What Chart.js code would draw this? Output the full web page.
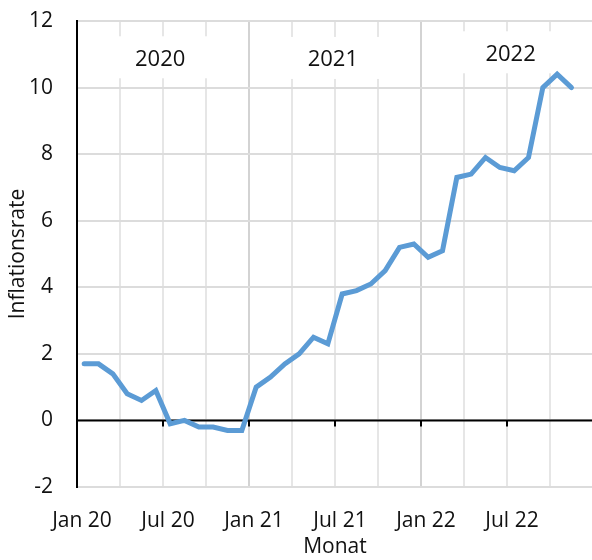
<!DOCTYPE html>
<html lang="de">
<head>
  <meta charset="UTF-8">
  <title>Inflationsrate</title>
  <script src="https://cdn.jsdelivr.net/npm/chart.js"></script>
  <style>
    body { margin: 0; background: #fff; overflow: hidden; }
    #wrap { width: 592px; height: 560px; overflow: hidden; }
  </style>
</head>
<body>
  <div id="wrap"><canvas id="chart" width="594" height="560"></canvas></div>

  <script>
    // Monate Jan 2020 .. Nov 2022
    const months = [
      'Jan 20','Feb 20','Mär 20','Apr 20','Mai 20','Jun 20','Jul 20','Aug 20','Sep 20','Okt 20','Nov 20','Dez 20',
      'Jan 21','Feb 21','Mär 21','Apr 21','Mai 21','Jun 21','Jul 21','Aug 21','Sep 21','Okt 21','Nov 21','Dez 21',
      'Jan 22','Feb 22','Mär 22','Apr 22','Mai 22','Jun 22','Jul 22','Aug 22','Sep 22','Okt 22','Nov 22'
    ];
    const inflation = [
      1.7, 1.7, 1.4, 0.8, 0.6, 0.9, -0.1, 0.0, -0.2, -0.2, -0.3, -0.3,
      1.0, 1.3, 1.7, 2.0, 2.5, 2.3, 3.8, 3.9, 4.1, 4.5, 5.2, 5.3,
      4.9, 5.1, 7.3, 7.4, 7.9, 7.6, 7.5, 7.9, 10.0, 10.4, 10.0
    ];
    const tickLabels = ['Jan 20', 'Jul 20', 'Jan 21', 'Jul 21', 'Jan 22', 'Jul 22'];
    const yearLabels = ['2020', '2021', '2022'];
    const yearLabelPos = [[5.8, 10.85], [17.85, 10.83], [30.25, 11.0]];

    const FONT = "'Open Sans', 'Noto Sans', sans-serif";
    const points = inflation.map((v, i) => ({ x: i + 0.5, y: v }));

    const axisExtras = {
      id: 'axisExtras',
      beforeDatasetsDraw(chart) {
        const { ctx, chartArea, scales: { x, y } } = chart;
        ctx.save();
        // Jahresbeschriftungen mit weissem Hintergrund
        ctx.font = '22px ' + FONT;
        ctx.textAlign = 'center';
        ctx.textBaseline = 'middle';
        yearLabels.forEach((t, i) => {
          const px = x.getPixelForValue(yearLabelPos[i][0]);
          const py = y.getPixelForValue(yearLabelPos[i][1]);
          ctx.fillStyle = '#fff';
          ctx.fillRect(px - 60, py - 23, 120, 42);
          ctx.fillStyle = '#111';
          ctx.fillText(t, px, py);
        });
        // Nulllinie mit Strichen
        const y0 = y.getPixelForValue(0);
        ctx.strokeStyle = '#000';
        ctx.lineWidth = 2;
        ctx.beginPath();
        ctx.moveTo(chartArea.left, y0);
        ctx.lineTo(chartArea.right, y0);
        for (let m = 0; m <= 36; m += 6) {
          const px = x.getPixelForValue(m);
          ctx.moveTo(px, y0);
          ctx.lineTo(px, y0 + 6);
        }
        ctx.stroke();
        ctx.restore();
      }
    };

    new Chart(document.getElementById('chart'), {
      type: 'line',
      data: {
        labels: months,
        datasets: [{
          label: 'Inflationsrate',
          data: points,
          borderColor: '#5b9bd5',
          borderWidth: 5,
          pointRadius: 0,
          tension: 0,
          borderCapStyle: 'round',
          borderJoinStyle: 'miter'
        }]
      },
      options: {
        responsive: false,
        animation: false,
        layout: { padding: { top: 21, right: 1, left: 0, bottom: 0 } },
        plugins: { legend: { display: false }, tooltip: { enabled: false } },
        scales: {
          x: {
            type: 'linear',
            min: 0,
            max: 36,
            afterFit(s) { s.height = 73; s.paddingLeft = 0; s.paddingRight = 0; },
            border: { display: false },
            grid: {
              drawTicks: false,
              lineWidth: 2,
              color: ctx => (ctx.tick && ctx.tick.value % 12 === 0) ? '#d3d3d3' : '#e6e6e6'
            },
            ticks: {
              stepSize: 3,
              autoSkip: false,
              maxRotation: 0,
              padding: 21,
              labelOffset: 5,
              color: '#111',
              font: { family: FONT, size: 21 },
              callback: v => (v % 6 === 0 && v < 36) ? tickLabels[v / 6] : ''
            },
            title: {
              display: true,
              text: 'Monat',
              color: '#111',
              padding: { top: 0, bottom: 0 },
              font: { family: FONT, size: 21 }
            }
          },
          y: {
            min: -2,
            max: 12,
            afterFit(s) { s.width = 77; s.paddingTop = 0; s.paddingBottom = 0; },
            border: { color: '#000', width: 2 },
            grid: { drawTicks: false, lineWidth: 2, color: '#dcdcdc' },
            ticks: {
              stepSize: 2,
              padding: 24,
              color: '#111',
              font: { family: FONT, size: 21 }
            },
            title: {
              display: true,
              text: 'Inflationsrate',
              color: '#111',
              padding: { top: 5, bottom: 0 },
              font: { family: FONT, size: 21 }
            }
          }
        }
      },
      plugins: [axisExtras]
    });
  </script>
</body>
</html>
